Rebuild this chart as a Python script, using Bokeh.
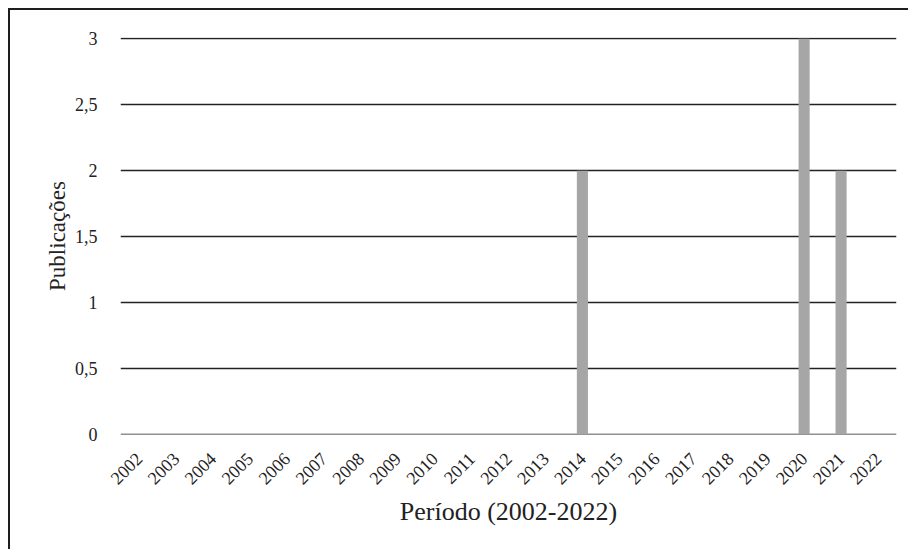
from bokeh.plotting import figure
from bokeh.models import FactorRange, Range1d, FixedTicker, ColumnDataSource
from bokeh.embed import file_html
from bokeh.resources import INLINE
import math

# Publications per year, 2002-2022
years = [str(y) for y in range(2002, 2023)]
publications = [0, 0, 0, 0, 0, 0, 0, 0, 0, 0, 0, 0, 2, 0, 0, 0, 0, 0, 3, 2, 0]
y_ticks = [0, 0.5, 1, 1.5, 2, 2.5, 3]
y_tick_labels = ["0", "0,5", "1", "1,5", "2", "2,5", "3"]

src = ColumnDataSource(data=dict(year=years, count=publications))

p = figure(
    x_range=FactorRange(factors=years, range_padding=0),
    y_range=Range1d(0, 3.01),
    width=900, height=541,
    output_backend="svg", toolbar_location=None,
    min_border_left=110, min_border_right=14,
    min_border_top=27, min_border_bottom=117,
    margin=(8, 0, 0, 8),
)
p.styles = {"border-left": "2px solid #1e1e1e", "border-top": "2px solid #1e1e1e"}
p.outline_line_color = None

# horizontal reference lines at every y tick, drawn beneath the bars
p.xgrid.grid_line_color = None
p.ygrid.grid_line_color = None
p.hspan(y=y_ticks, line_color="#222222", line_width=1.3)

p.vbar(x="year", top="count", width=0.3, source=src,
       fill_color="#a6a6a6", line_color=None)

serif = "Liberation Serif"

p.yaxis.ticker = FixedTicker(ticks=y_ticks)
p.yaxis.major_label_overrides = {t: l for t, l in zip(y_ticks, y_tick_labels)}
p.yaxis.axis_label = "Publicações"

for ax in (p.xaxis[0], p.yaxis[0]):
    ax.axis_line_color = None
    ax.major_tick_line_color = None
    ax.minor_tick_line_color = None
    ax.major_label_text_font = serif
    ax.major_label_text_font_size = "18px"
    ax.major_label_text_color = "#222222"
    ax.axis_label_text_font = serif
    ax.axis_label_text_font_style = "normal"
    ax.axis_label_text_color = "#222222"

p.yaxis.axis_label_text_font_size = "23px"
p.xaxis.axis_label_text_font_size = "26px"
p.yaxis.major_label_standoff = 17
p.yaxis.axis_label_standoff = 2
p.xaxis.axis_label = "Período (2002-2022)"
p.xaxis.major_label_orientation = math.pi / 4
p.xaxis.major_label_standoff = 15
p.xaxis.axis_label_standoff = 4

open("out.html", "w").write(file_html(p, INLINE))
